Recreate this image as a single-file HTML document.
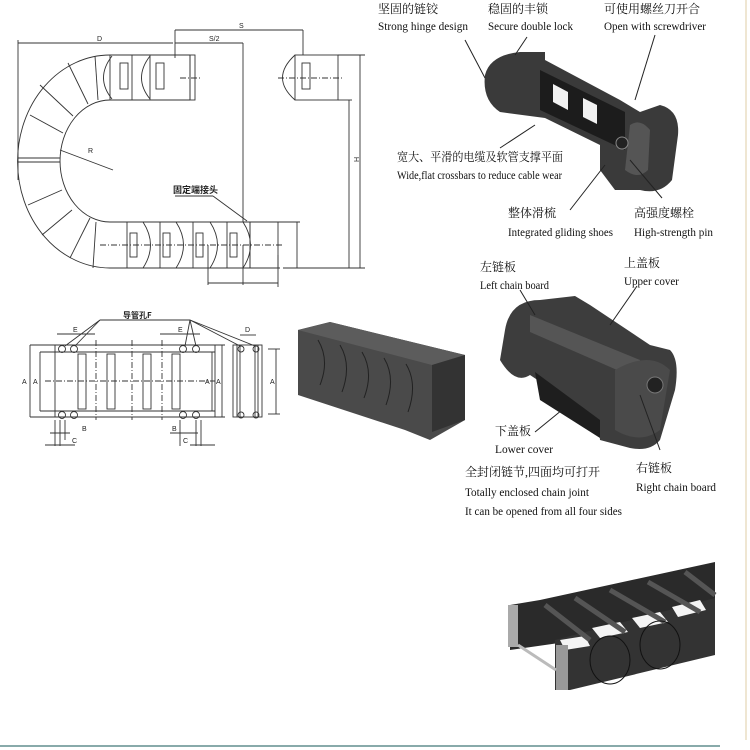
<!DOCTYPE html>
<html><head><meta charset="utf-8"><style>
html,body{margin:0;padding:0;background:#fff;}
svg{display:block;}
.t{font-family:"Liberation Serif","Noto Serif CJK SC",serif;font-size:12px;fill:#111;}
.s{font-family:"Liberation Sans","Noto Sans CJK SC",sans-serif;font-size:7px;fill:#222;}
</style></head><body>
<svg width="750" height="750" viewBox="0 0 750 750" xmlns="http://www.w3.org/2000/svg">
<rect width="750" height="750" fill="#fff"/>
<line x1="746" y1="0" x2="746" y2="740" stroke="#efe6d2" stroke-width="2"/>
<g stroke="#333" fill="none" stroke-width="0.9">
 <line x1="18" y1="40" x2="18" y2="180"/>
 <line x1="18" y1="43" x2="173" y2="43"/><text class="s" x="97" y="41" stroke="none">D</text>
 <line x1="175" y1="30" x2="175" y2="58"/>
 <line x1="175" y1="30" x2="303" y2="30"/><text class="s" x="239" y="28" stroke="none">S</text>
 <line x1="175" y1="43" x2="243" y2="43"/><text class="s" x="209" y="41" stroke="none">S/2</text>
 <line x1="243" y1="43" x2="243" y2="222"/>
 <line x1="303" y1="30" x2="303" y2="55"/>
 <line x1="338" y1="55" x2="365" y2="55"/><line x1="338" y1="100" x2="352" y2="100"/>
 <line x1="283" y1="268" x2="365" y2="268"/>
 <line x1="360" y1="55" x2="360" y2="268"/><text class="s" x="355" y="162" stroke="none" transform="rotate(-90 357 160)">H</text>
 <line x1="349" y1="100" x2="349" y2="268"/>
 <line x1="297" y1="222" x2="297" y2="268"/>
 <line x1="280" y1="222" x2="300" y2="222"/>
 <line x1="208" y1="245" x2="208" y2="285"/><line x1="243" y1="245" x2="243" y2="285"/><line x1="278" y1="255" x2="278" y2="287"/>
 <line x1="208" y1="283" x2="243" y2="283"/><line x1="243" y1="283" x2="278" y2="283"/>
 <path d="M190 55 L110 55 A92 106 0 0 0 110 268 L280 268"/>
 <path d="M190 100 L110 100 A50 61 0 0 0 110 222 L280 222"/>
 <line x1="110" y1="55" x2="110" y2="100"/><line x1="190" y1="55" x2="190" y2="100"/>
 <line x1="18" y1="158" x2="60" y2="158"/><line x1="18" y1="162" x2="60" y2="162"/>
 <line x1="40" y1="85" x2="73" y2="116"/><line x1="68" y1="63" x2="88" y2="104"/>
 <line x1="30" y1="115" x2="63" y2="133"/><line x1="28" y1="205" x2="62" y2="190"/>
 <line x1="42" y1="235" x2="72" y2="210"/><line x1="70" y1="258" x2="90" y2="218"/>
 <line x1="95" y1="56" x2="98" y2="100"/>
 <line x1="93" y1="268" x2="96" y2="222"/>
 <line x1="60" y1="150" x2="113" y2="170"/><text class="s" x="88" y="153" stroke="none">R</text>
 <line x1="132" y1="55" x2="132" y2="100"/><line x1="150" y1="55" x2="150" y2="100"/>
 <path d="M112 56 Q95 78 112 99"/><path d="M150 56 Q133 78 150 99"/>
 <rect x="120" y="63" width="8" height="26"/><rect x="156" y="63" width="8" height="26"/>
 <rect x="190" y="55" width="5" height="45"/>
 <line x1="180" y1="78" x2="202" y2="78" stroke-dasharray="6 2 1 2"/>
 <path d="M295 55 Q270 78 295 100"/><rect x="295" y="55" width="43" height="45"/>
 <rect x="302" y="63" width="8" height="26"/><line x1="278" y1="78" x2="342" y2="78" stroke-dasharray="6 2 1 2"/>
 <line x1="127" y1="222" x2="127" y2="268"/><line x1="160" y1="222" x2="160" y2="268"/><line x1="193" y1="222" x2="193" y2="268"/><line x1="227" y1="222" x2="227" y2="268"/><line x1="250" y1="222" x2="250" y2="268"/>
 <path d="M143 222 Q158 245 143 268"/><path d="M176 222 Q191 245 176 268"/><path d="M210 222 Q225 245 210 268"/><path d="M243 222 Q258 245 243 268"/>
 <rect x="130" y="233" width="7" height="24"/><rect x="163" y="233" width="7" height="24"/><rect x="196" y="233" width="7" height="24"/><rect x="230" y="233" width="7" height="24"/>
 <rect x="250" y="222" width="28" height="46"/>
 <line x1="100" y1="245" x2="283" y2="245" stroke-dasharray="6 2 1 2"/>
 <line x1="175" y1="196" x2="213" y2="196"/><line x1="213" y1="196" x2="247" y2="221"/>
 <text x="173" y="193" stroke="none" style="font-family:'Noto Sans CJK SC',sans-serif;font-size:9px;font-weight:bold;fill:#222">固定端接头</text>
</g>
<g stroke="#333" fill="none" stroke-width="0.9">
 <text x="123" y="318" stroke="none" style="font-family:'Noto Sans CJK SC',sans-serif;font-size:8px;font-weight:bold;fill:#222">导管孔F</text>
 <line x1="100" y1="320" x2="190" y2="320"/>
 <line x1="100" y1="320" x2="65" y2="346"/><line x1="100" y1="320" x2="75" y2="346"/>
 <line x1="190" y1="320" x2="185" y2="346"/><line x1="190" y1="320" x2="196" y2="346"/><line x1="190" y1="320" x2="240" y2="346"/><line x1="190" y1="320" x2="255" y2="346"/>
 <line x1="57" y1="334" x2="95" y2="334"/><text class="s" x="73" y="332" stroke="none">E</text>
 <line x1="160" y1="334" x2="200" y2="334"/><text class="s" x="178" y="332" stroke="none">E</text>
 <rect x="55" y="345" width="160" height="72"/>
 <line x1="30" y1="345" x2="225" y2="345"/><line x1="30" y1="417" x2="225" y2="417"/>
 <line x1="40" y1="352" x2="215" y2="352"/><line x1="40" y1="411" x2="215" y2="411"/>
 <line x1="30" y1="345" x2="30" y2="417"/><line x1="40" y1="352" x2="40" y2="411"/>
 <line x1="222" y1="345" x2="222" y2="417"/><line x1="212" y1="352" x2="212" y2="411"/>
 <text class="s" x="22" y="384" stroke="none">A</text><text class="s" x="33" y="384" stroke="none">A</text>
 <text class="s" x="205" y="384" stroke="none">A</text><text class="s" x="216" y="384" stroke="none">A</text>
 <circle cx="62" cy="349" r="3.5"/><circle cx="74" cy="349" r="3.5"/><circle cx="183" cy="349" r="3.5"/><circle cx="196" cy="349" r="3.5"/>
 <circle cx="62" cy="415" r="3.5"/><circle cx="74" cy="415" r="3.5"/><circle cx="183" cy="415" r="3.5"/><circle cx="196" cy="415" r="3.5"/>
 <rect x="78" y="354" width="8" height="55"/><rect x="107" y="354" width="8" height="55"/><rect x="143" y="354" width="8" height="55"/><rect x="172" y="354" width="8" height="55"/>
 <line x1="45" y1="381" x2="215" y2="381" stroke-dasharray="6 2 1 2"/>
 <line x1="96" y1="340" x2="96" y2="420" stroke-dasharray="6 2 1 2"/><line x1="132" y1="340" x2="132" y2="420" stroke-dasharray="6 2 1 2"/><line x1="162" y1="340" x2="162" y2="420" stroke-dasharray="6 2 1 2"/>
 <line x1="55" y1="420" x2="55" y2="446"/><line x1="60" y1="420" x2="60" y2="446"/><line x1="65" y1="420" x2="65" y2="440"/>
 <line x1="50" y1="433" x2="70" y2="433"/><line x1="45" y1="445" x2="75" y2="445"/>
 <text class="s" x="82" y="431" stroke="none">B</text><text class="s" x="72" y="443" stroke="none">C</text>
 <line x1="180" y1="420" x2="180" y2="446"/><line x1="196" y1="420" x2="196" y2="446"/><line x1="201" y1="420" x2="201" y2="446"/>
 <line x1="170" y1="433" x2="198" y2="433"/><line x1="190" y1="445" x2="215" y2="445"/>
 <text class="s" x="172" y="431" stroke="none">B</text><text class="s" x="183" y="443" stroke="none">C</text>
 <rect x="233" y="345" width="29" height="72"/>
 <line x1="237" y1="345" x2="237" y2="417"/><line x1="258" y1="345" x2="258" y2="417"/><line x1="240" y1="345" x2="240" y2="417"/><line x1="255" y1="345" x2="255" y2="417"/>
 <circle cx="241" cy="349" r="3"/><circle cx="256" cy="349" r="3"/><circle cx="241" cy="415" r="3"/><circle cx="256" cy="415" r="3"/>
 <line x1="240" y1="335" x2="256" y2="335"/><text class="s" x="245" y="332" stroke="none">D</text>
 <line x1="268" y1="349" x2="280" y2="349"/><line x1="268" y1="414" x2="280" y2="414"/><line x1="276" y1="349" x2="276" y2="414"/>
 <text class="s" x="270" y="384" stroke="none">A</text>
</g>
<g>
 <path d="M485 75 Q490 55 520 52 L545 52 L545 60 L620 100 L640 112 L660 105 Q680 110 678 135 L672 180 Q660 195 640 190 L615 190 L600 170 L600 145 L545 118 L500 112 Q482 100 485 75Z" fill="#3a3a3a"/>
 <path d="M540 70 L625 112 L625 150 L540 110Z" fill="#1c1c1c"/>
 <path d="M553 84 L568 92 L568 110 L553 102Z" fill="#f2f2f2"/><path d="M583 98 L597 105 L597 124 L583 117Z" fill="#f2f2f2"/>
 <path d="M630 125 Q640 118 650 130 L648 170 Q638 180 625 170Z" fill="#555"/>
 <circle cx="622" cy="143" r="6" fill="#222" stroke="#888"/>
</g>
<g stroke="#222" stroke-width="1">
 <line x1="465" y1="40" x2="485" y2="78"/><line x1="527" y1="37" x2="515" y2="55"/><line x1="655" y1="35" x2="635" y2="100"/>
 <line x1="500" y1="148" x2="535" y2="125"/><line x1="570" y1="210" x2="605" y2="165"/><line x1="662" y1="198" x2="630" y2="160"/>
</g>
<text class="t" x="378" y="13">坚固的链铰</text><text class="t" x="378" y="30" textLength="90" lengthAdjust="spacingAndGlyphs">Strong hinge design</text>
<text class="t" x="488" y="13">稳固的丰锁</text><text class="t" x="488" y="30" textLength="85" lengthAdjust="spacingAndGlyphs">Secure double lock</text>
<text class="t" x="604" y="13">可使用螺丝刀开合</text><text class="t" x="604" y="30" textLength="102" lengthAdjust="spacingAndGlyphs">Open with screwdriver</text>
<text class="t" x="397" y="161" textLength="166" lengthAdjust="spacingAndGlyphs">宽大、平滑的电缆及软管支撑平面</text><text class="t" x="397" y="179" textLength="165" lengthAdjust="spacingAndGlyphs">Wide,flat crossbars to reduce cable wear</text>
<text class="t" x="508" y="217">整体滑梳</text><text class="t" x="508" y="236" textLength="105" lengthAdjust="spacingAndGlyphs">Integrated gliding shoes</text>
<text class="t" x="634" y="217">高强度螺栓</text><text class="t" x="634" y="236" textLength="79" lengthAdjust="spacingAndGlyphs">High-strength pin</text>
<path d="M298 330 L330 322 L465 355 L465 420 L430 440 L405 430 L298 395Z" fill="#4a4a4a"/>
<path d="M298 330 L330 322 L465 355 L432 365Z" fill="#5c5c5c"/>
<path d="M432 365 L465 355 L465 420 L432 432Z" fill="#333"/>
<g fill="none" stroke="#222"><path d="M318 340 Q330 360 320 385"/><path d="M340 345 Q352 365 342 392"/><path d="M362 352 Q374 372 364 398"/><path d="M384 358 Q396 378 386 405"/><path d="M406 364 Q418 384 408 412"/></g>
<path d="M505 330 Q510 300 540 300 L575 296 L590 305 L650 345 L670 350 Q680 360 675 390 L660 440 Q650 452 630 448 L600 440 L598 420 L530 375 Q515 385 500 360Z" fill="#3d3d3d"/>
<path d="M530 315 L640 360 L640 380 L530 332Z" fill="#555"/>
<path d="M535 372 L600 420 L600 438 L540 400Z" fill="#1e1e1e"/>
<path d="M615 370 Q650 350 670 370 L660 430 Q640 445 615 430Z" fill="#4a4a4a"/>
<circle cx="655" cy="385" r="8" fill="#222" stroke="#777"/>
<g stroke="#222" stroke-width="1">
 <line x1="520" y1="290" x2="535" y2="315"/><line x1="637" y1="286" x2="610" y2="325"/>
 <line x1="535" y1="432" x2="562" y2="410"/><line x1="660" y1="450" x2="640" y2="395"/>
</g>
<text class="t" x="480" y="271">左链板</text><text class="t" x="480" y="289" textLength="69" lengthAdjust="spacingAndGlyphs">Left chain board</text>
<text class="t" x="624" y="267">上盖板</text><text class="t" x="624" y="285" textLength="55" lengthAdjust="spacingAndGlyphs">Upper cover</text>
<text class="t" x="495" y="435">下盖板</text><text class="t" x="495" y="453" textLength="58" lengthAdjust="spacingAndGlyphs">Lower cover</text>
<text class="t" x="465" y="476">全封闭链节,四面均可打开</text>
<text class="t" x="465" y="496" textLength="124" lengthAdjust="spacingAndGlyphs">Totally enclosed chain joint</text>
<text class="t" x="465" y="515" textLength="157" lengthAdjust="spacingAndGlyphs">It can be opened from all four sides</text>
<text class="t" x="636" y="472">右链板</text><text class="t" x="636" y="491" textLength="80" lengthAdjust="spacingAndGlyphs">Right chain board</text>
<path d="M510 605 L540 600 L715 562 L715 600 L580 640 L510 650Z" fill="#2a2a2a"/>
<path d="M555 640 L715 598 L715 655 L570 690 L555 690Z" fill="#333"/>
<g fill="#f4f4f4"><path d="M592 628 L620 622 L628 632 L600 638Z"/><path d="M632 618 L660 612 L668 622 L640 628Z"/><path d="M672 607 L700 600 L706 610 L678 617Z"/><path d="M560 640 L585 636 L590 646 L565 650Z"/></g>
<g stroke="#555" stroke-width="5"><line x1="545" y1="605" x2="590" y2="640"/><line x1="575" y1="598" x2="625" y2="632"/><line x1="610" y1="590" x2="665" y2="622"/><line x1="648" y1="582" x2="700" y2="612"/><line x1="685" y1="572" x2="715" y2="595"/></g>
<rect x="508" y="605" width="10" height="42" fill="#aaa"/><rect x="556" y="645" width="12" height="45" fill="#999"/>
<line x1="518" y1="645" x2="556" y2="670" stroke="#bbb" stroke-width="3"/>
<g fill="none" stroke="#111"><ellipse cx="610" cy="660" rx="20" ry="24"/><ellipse cx="660" cy="645" rx="20" ry="24"/></g>
<line x1="0" y1="746" x2="720" y2="746" stroke="#8aa" stroke-width="2"/>
</svg>
</body></html>
